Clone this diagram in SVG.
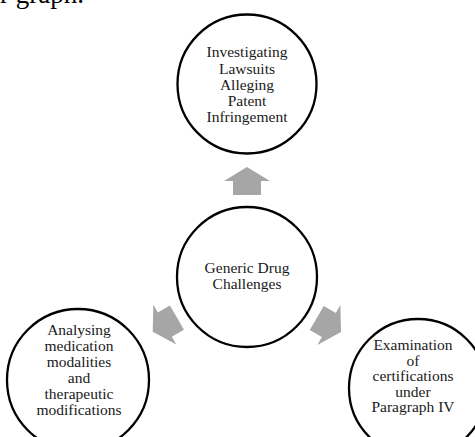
<svg xmlns="http://www.w3.org/2000/svg" width="475" height="437" viewBox="0 0 475 437">
<defs>
<style>
.node circle{fill:#fff;stroke:#000;stroke-width:2.3}
.node text{font-family:"Liberation Serif","Times New Roman",serif;font-size:15.5px;fill:#1a1a1a;text-anchor:middle}
.arrow{fill:#a6a6a6}
.cap{font-family:"Liberation Serif","Times New Roman",serif;font-size:27px;fill:#000}
</style>
<polygon id="arr" points="0,0 23,14 14,14 14,28 -14,28 -14,14 -23,14"/>
</defs>
<rect width="475" height="437" fill="#fff"/>
<text class="cap" x="0" y="3">r graph.</text>
<g id="connectors">
<use href="#arr" class="arrow" transform="translate(247,167)"/>
<use href="#arr" class="arrow" transform="translate(152.7,331.7) rotate(-120)"/>
<use href="#arr" class="arrow" transform="translate(341,332) rotate(120)"/>
</g>
<g id="node-top" class="node">
<circle cx="247" cy="84" r="69.5"/>
<text x="247" y="57">Investigating</text>
<text x="247" y="73.5">Lawsuits</text>
<text x="247" y="90">Alleging</text>
<text x="247" y="106">Patent</text>
<text x="247" y="122">Infringement</text>
</g>
<g id="node-center" class="node">
<circle cx="247" cy="277" r="70"/>
<text x="247" y="273">Generic Drug</text>
<text x="247" y="289">Challenges</text>
</g>
<g id="node-left" class="node">
<circle cx="78" cy="380" r="71"/>
<text x="79" y="335">Analysing</text>
<text x="79" y="351">medication</text>
<text x="79" y="367">modalities</text>
<text x="79" y="383">and</text>
<text x="79" y="399">therapeutic</text>
<text x="79" y="415">modifications</text>
</g>
<g id="node-right" class="node">
<circle cx="418" cy="388" r="69"/>
<text x="413" y="350">Examination</text>
<text x="413" y="365.5">of</text>
<text x="413" y="381">certifications</text>
<text x="413" y="396.5">under</text>
<text x="413" y="412">Paragraph IV</text>
</g>
</svg>
